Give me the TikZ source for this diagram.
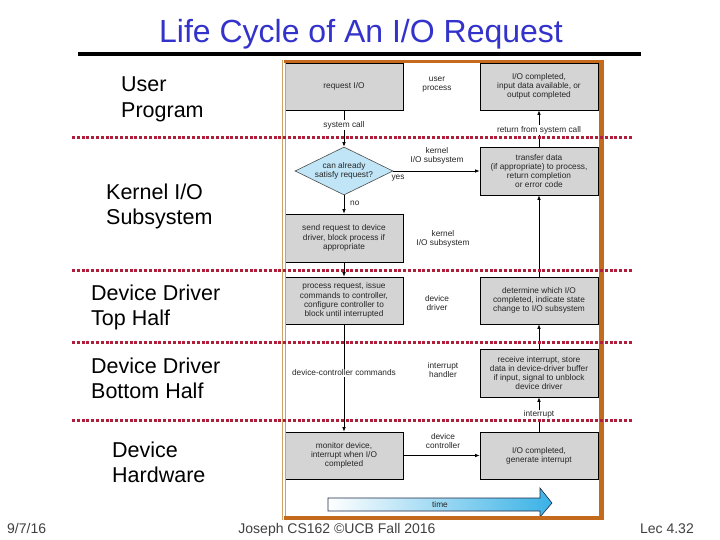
\documentclass[tikz,border=0pt]{standalone}
\usepackage{fontspec}
\setmainfont{Liberation Sans}
\usetikzlibrary{arrows.meta,shapes.geometric}
\definecolor{titleblue}{RGB}{51,51,204}
\definecolor{frameor}{RGB}{196,106,28}
\definecolor{frametan}{RGB}{210,160,100}
\definecolor{dotred}{RGB}{178,30,58}
\definecolor{boxgray}{RGB}{212,212,212}
\definecolor{diablue}{RGB}{192,229,246}
\definecolor{timeblue}{RGB}{58,178,230}
\definecolor{navy}{RGB}{30,40,70}
\definecolor{footgray}{RGB}{64,64,64}
\begin{document}
\begin{tikzpicture}[x=1pt,y=-1pt,
  box/.style={draw=black, line width=0.7pt, fill=boxgray, text=black!85, align=center,
    font={\fontsize{8.3}{9.2}\selectfont}, inner sep=0pt, minimum width=118pt},
  lbl/.style={text=black!85, align=center, font={\fontsize{8.3}{9.2}\selectfont}, inner sep=1pt},
  wlbl/.style={lbl, fill=white},
  conn/.style={draw=black, line width=0.7pt, -{Latex[length=4.5pt,width=3.6pt]}},
  side/.style={anchor=north west, align=left, inner sep=0pt, text=black,
    font={\fontsize{21.5}{25.5}\selectfont}},
  dots/.style={draw=dotred, line width=3pt, dash pattern=on 3pt off 1.8pt},
  foot/.style={text=footgray, inner sep=0pt, font={\fontsize{14}{16}\selectfont}}]
\useasboundingbox (0,0) rectangle (720,540);
\fill[white] (0,0) rectangle (720,540);

% title
\node[anchor=base, inner sep=0pt, text=titleblue, font={\fontsize{32}{36}\selectfont}] (title) at (361,43) {Life Cycle of An I/O Request};
\draw[black, line width=4pt] (78,54) -- (641,54);

% left layer labels
\node[side] (lup) at (121,76.6) {User\\Program};
\node[side] (lks) at (106,183.6) {Kernel I/O\\Subsystem};
\node[side] (ldt) at (91,284.6) {Device Driver\\Top Half};
\node[side] (ldb) at (91,357.4) {Device Driver\\Bottom Half};
\node[side] (ldh) at (112,441.4) {Device\\Hardware};

% boxes
\node[box, minimum height=47pt] (req) at (344,86.5) {request I/O};
\node[box, minimum height=47pt] (iocomp) at (539,86.5) {I/O completed,\\input data available, or\\output completed};
\node[draw=black!70, line width=0.6pt, fill=diablue, shape=diamond, aspect=2, minimum width=98pt, minimum height=48pt, inner sep=0pt, text=black!85, align=center, font={\fontsize{8.3}{9.2}\selectfont}] (dia) at (344,171) {can already\\satisfy request?};
\node[box, minimum height=48pt] (transfer) at (539,171) {transfer data\\(if appropriate) to process,\\return completion\\or error code};
\node[box, minimum height=48pt] (send) at (344,238) {send request to device\\driver, block process if\\appropriate};
\node[box, minimum height=47pt] (process) at (344,300.5) {process request, issue\\commands to controller,\\configure controller to\\block until interrupted};
\node[box, minimum height=47pt] (determine) at (539,300.5) {determine which I/O\\completed, indicate state\\change to I/O subsystem};
\node[box, minimum height=48pt] (receive) at (539,373) {receive interrupt, store\\data in device-driver buffer\\if input, signal to unblock\\device driver};
\node[box, minimum height=47pt] (monitor) at (344,455.5) {monitor device,\\interrupt when I/O\\completed};
\node[box, minimum height=47pt] (genint) at (539,455.5) {I/O completed,\\generate interrupt};

% middle labels
\node[lbl] (mup) at (437,85) {user\\process};
\node[lbl] (mks1) at (437,156) {kernel\\I/O subsystem};
\node[lbl] (mks2) at (443,239) {kernel\\I/O subsystem};
\node[lbl] (mdd) at (437,303) {device\\driver};
\node[lbl] (mih) at (443,370) {interrupt\\handler};
\node[lbl] (mdc) at (443,441) {device\\controller};

% connectors
\draw[conn] (req.south) -- node[wlbl, pos=0.4] {system call} (dia.north);
\draw[conn] (dia.east) -- (transfer.west);
\node[lbl] (yes) at (398,178) {yes};
\draw[conn] (dia.south) -- (send.north);
\node[lbl, anchor=west] (no) at (349,203) {no};
\draw[conn] (send.south) -- (process.north);
\draw[conn] (process.south) -- node[wlbl, pos=0.45] {device-controller commands} (monitor.north);
\draw[conn] (monitor.east) -- (genint.west);
\draw[conn] (genint.north) -- node[wlbl, pos=0.5] {interrupt} (receive.south);
\draw[conn] (receive.north) -- (determine.south);
\draw[conn] (determine.north) -- (transfer.south);
\draw[conn] (transfer.north) -- node[wlbl, pos=0.45] {return from system call} (iocomp.south);

% time arrow
\shade[left color=white, right color=timeblue] (328,498) -- (540,498) -- (540,488) -- (552,503) -- (540,517) -- (540,511) -- (328,511) -- cycle;
\draw[navy, line width=0.6pt, line join=miter] (328,498) -- (540,498) -- (540,488) -- (552,503) -- (540,517) -- (540,511) -- (328,511) -- cycle;
\node[lbl] (time) at (440,504.5) {time};

% frame
\draw[frametan, line width=0.9pt] (282.5,60) -- (282.5,520);
\draw[frametan, line width=0.9pt] (285.5,60) -- (285.5,520);
\draw[frameor, line width=3.5pt] (284,61.5) -- (603.5,61.5);
\draw[frameor, line width=5pt] (601,60) -- (601,520);
\draw[frameor, line width=4pt] (284,518) -- (603.5,518);

% dotted layer separators
\draw[dots] (72,137.5) -- (633,137.5);
\draw[dots] (72,270) -- (633,270);
\draw[dots] (72,342) -- (633,342);
\draw[dots] (72,420.5) -- (633,420.5);

% footer
\node[foot, anchor=base west] (fdate) at (7,533) {9/7/16};
\node[foot, anchor=base] (fmid) at (337,533) {Joseph CS162 ©UCB Fall 2016};
\node[foot, anchor=base east] (flec) at (694,533) {Lec 4.32};
\end{tikzpicture}
\end{document}
